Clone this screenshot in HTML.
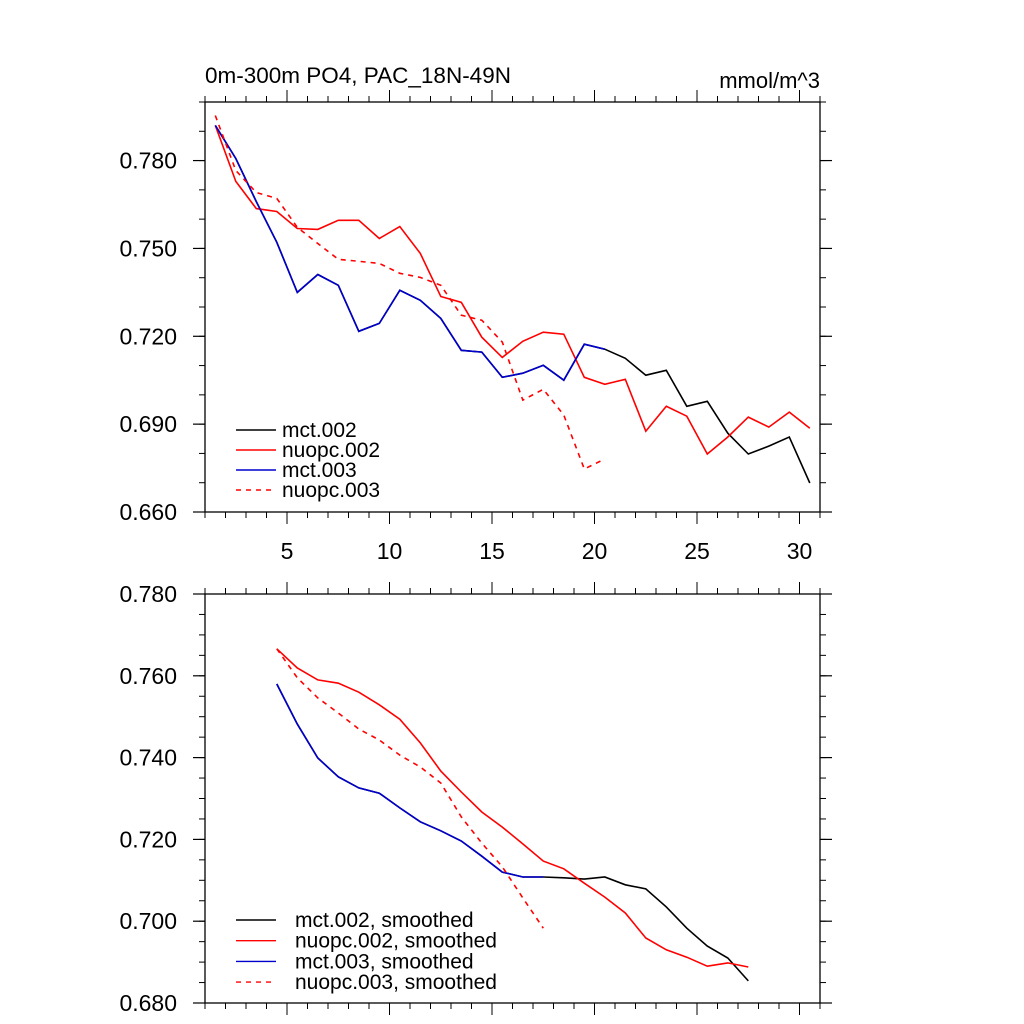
<!DOCTYPE html>
<html><head><meta charset="utf-8"><style>
html,body{margin:0;padding:0;background:#fff;}
svg{display:block;font-family:"Liberation Sans",sans-serif;}
</style></head><body>
<svg id="chart" width="1024" height="1024" viewBox="0 0 1024 1024"></svg>
<script>
// ---- data ----
const xTop = [];
for (let i = 0; i < 30; i++) xTop.push(1.5 + i);
const mct002 = [0.7920,0.7807,0.7660,0.7521,0.7350,0.7411,0.7374,0.7217,0.7244,0.7357,0.7323,0.7261,0.7152,0.7146,0.7060,0.7074,0.7101,0.7050,0.7173,0.7156,0.7125,0.7067,0.7084,0.6961,0.6978,0.6869,0.6798,0.6825,0.6856,0.6699];
const nuopc002 = [0.7920,0.7729,0.7636,0.7626,0.7568,0.7565,0.7596,0.7596,0.7534,0.7575,0.7483,0.7336,0.7316,0.7197,0.7128,0.7183,0.7214,0.7207,0.7060,0.7036,0.7053,0.6876,0.6961,0.6927,0.6798,0.6856,0.6924,0.6890,0.6941,0.6886];
const mct003 = [0.7920,0.7807,0.7660,0.7521,0.7350,0.7411,0.7374,0.7217,0.7244,0.7357,0.7323,0.7261,0.7152,0.7146,0.7060,0.7074,0.7101,0.7050,0.7173,0.7156];
const nuopc003 = [0.7954,0.7766,0.7691,0.7671,0.7572,0.7517,0.7463,0.7456,0.7449,0.7415,0.7401,0.7374,0.7272,0.7255,0.7180,0.6982,0.7019,0.6931,0.6747,0.6781];
const xBot = [];
for (let i = 0; i < 24; i++) xBot.push(4.5 + i);
const mct002s = [0.7580,0.7482,0.7399,0.7353,0.7326,0.7313,0.7277,0.7243,0.7221,0.7196,0.7159,0.7120,0.7108,0.7108,0.7106,0.7103,0.7108,0.7089,0.7079,0.7035,0.6983,0.6939,0.6910,0.6854];
const nuopc002s = [0.7666,0.7619,0.7590,0.7582,0.7560,0.7529,0.7494,0.7436,0.7367,0.7316,0.7267,0.7230,0.7189,0.7147,0.7128,0.7093,0.7059,0.7020,0.6959,0.6930,0.6912,0.6890,0.6898,0.6888];
const mct003s = [0.7580,0.7482,0.7399,0.7353,0.7326,0.7313,0.7277,0.7243,0.7221,0.7196,0.7159,0.7120,0.7108,0.7108];
const nuopc003s = [0.7666,0.7595,0.7546,0.7509,0.7470,0.7443,0.7406,0.7377,0.7338,0.7255,0.7191,0.7133,0.7057,0.6983];
const xTickLabels = ["5","10","15","20","25","30"];
const yTopTicks = ["0.660","0.690","0.720","0.750","0.780"];
const yBotTicks = ["0.680","0.700","0.720","0.740","0.760","0.780"];

const NS = "http://www.w3.org/2000/svg";
const svg = document.getElementById("chart");
function mk(tag, attrs, parent) {
  const e = document.createElementNS(NS, tag);
  for (const k in attrs) e.setAttribute(k, attrs[k]);
  (parent || svg).appendChild(e);
  return e;
}
const L = 205, R = 820;
const sx = x => L + (x - 1) / 30 * (R - L);

function panel(name, top, bottom, ymin, ymax, yTicks, yMinorStep, showXLabels) {
  const g = mk("g", {});
  
  
  const sy = v => bottom - (v - ymin) / (ymax - ymin) * (bottom - top);
  const nMinor = Math.round((ymax - ymin) / yMinorStep);
  for (let i = 0; i <= nMinor; i++) {
    const y = sy(ymin + i * yMinorStep);
    mk("line", {x1: L - 6, x2: L, y1: y, y2: y, stroke: "#000", "stroke-width": 1}, g);
    mk("line", {x1: R, x2: R + 6, y1: y, y2: y, stroke: "#000", "stroke-width": 1}, g);
  }
  yTicks.forEach(t => {
    const y = sy(parseFloat(t));
    mk("line", {x1: L - 12, x2: L, y1: y, y2: y, stroke: "#000", "stroke-width": 1.2}, g);
    mk("line", {x1: R, x2: R + 12, y1: y, y2: y, stroke: "#000", "stroke-width": 1.2}, g);
    const tx = mk("text", {x: 177, y: y + 8, "text-anchor": "end", "font-size": 23}, g);
    tx.textContent = t;
    
    
  });
  for (let xv = 1; xv <= 31; xv++) {
    const x = sx(xv);
    const major = xv % 5 === 0;
    const len = major ? 12 : 6;
    mk("line", {x1: x, x2: x, y1: bottom, y2: bottom + len, stroke: "#000", "stroke-width": 1}, g);
    mk("line", {x1: x, x2: x, y1: top - len, y2: top, stroke: "#000", "stroke-width": 1}, g);
  }
  if (showXLabels) {
    xTickLabels.forEach(t => {
      const tx = mk("text", {x: sx(parseFloat(t)), y: bottom + 47, "text-anchor": "middle", "font-size": 23}, g);
      tx.textContent = t;
      
      
    });
  }
  const fr = mk("rect", {x: L, y: top, width: R - L, height: bottom - top, fill: "none", stroke: "#000", "stroke-width": 1.3}, g);
  
  
  return {g, sy};
}
function series(p, xs, ys, color, dash, name) {
  const pts = ys.map((v, i) => sx(xs[i]).toFixed(1) + "," + p.sy(v).toFixed(1)).join(" ");
  const pl = mk("polyline", {points: pts, fill: "none", stroke: color, "stroke-width": 1.6, "stroke-dasharray": dash ? "5,5" : "none"}, p.g);
  
  
}
function legend(p, items, x0, y0, dy, textX) {
  items.forEach((it, i) => {
    const y = y0 + i * dy;
    const ln = mk("line", {x1: x0, x2: x0 + 40, y1: y, y2: y, stroke: it[1], "stroke-width": 1.4, "stroke-dasharray": it[2] ? "5,5" : "none"}, p.g);
    
    
    const tx = mk("text", {x: textX, y: y + 7, "font-size": 21}, p.g);
    tx.textContent = it[0];
    
    
  });
}

const p1 = panel("top-panel", 102, 512, 0.66, 0.80, yTopTicks, 0.01, true);
series(p1, xTop, mct002, "#000", false, "line-mct002");
series(p1, xTop, nuopc002, "#f00", false, "line-nuopc002");
series(p1, xTop, mct003, "#00c", false, "line-mct003");
series(p1, xTop, nuopc003, "#f00", true, "line-nuopc003");
legend(p1, [["mct.002","#000"],["nuopc.002","#f00"],["mct.003","#00c"],["nuopc.003","#f00",true]], 236, 430, 20, 282);

const p2 = panel("bottom-panel", 594, 1003, 0.68, 0.78, yBotTicks, 0.005, false);
series(p2, xBot, mct002s, "#000", false, "line-mct002-smoothed");
series(p2, xBot, nuopc002s, "#f00", false, "line-nuopc002-smoothed");
series(p2, xBot, mct003s, "#00c", false, "line-mct003-smoothed");
series(p2, xBot, nuopc003s, "#f00", true, "line-nuopc003-smoothed");
legend(p2, [["mct.002, smoothed","#000"],["nuopc.002, smoothed","#f00"],["mct.003, smoothed","#00c"],["nuopc.003, smoothed","#f00",true]], 236, 920, 20.7, 295);

const t1 = mk("text", {x: 205, y: 83, "font-size": 22.5});
t1.textContent = "0m-300m PO4, PAC_18N-49N";


const t2 = mk("text", {x: 820, y: 88, "font-size": 22, "text-anchor": "end"});
t2.textContent = "mmol/m^3";


</script>
</body></html>
